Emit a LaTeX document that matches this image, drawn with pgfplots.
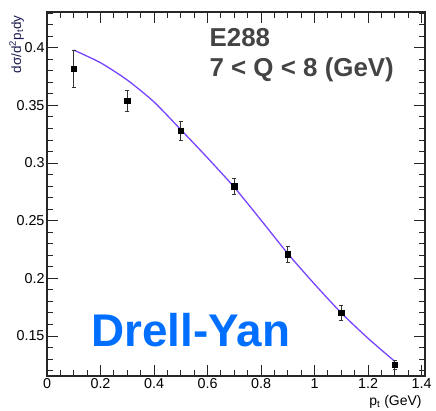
\documentclass[border=0pt]{standalone}
\usepackage{fontspec}
\setmainfont{Liberation Sans}
\usepackage{pgfplots}
\pgfplotsset{compat=1.18}
\definecolor{fitline}{HTML}{7744FF}
\definecolor{dyblue}{HTML}{006EFF}
\definecolor{txtgray}{HTML}{444444}
\definecolor{labnavy}{HTML}{1A1A50}
\begin{document}
\begin{tikzpicture}
\begin{axis}[
    scale only axis,
    width=378bp, height=364bp,
    xmin=0, xmax=1.413,
    ymin=0.1153, ymax=0.431,
    axis line style={line width=1.1bp, black!85},
    xtick={0,0.2,0.4,0.6,0.8,1,1.2,1.4},
    minor xtick={0.05,0.1,0.15,0.25,0.3,0.35,0.45,0.5,0.55,0.65,0.7,0.75,0.85,0.9,0.95,1.05,1.1,1.15,1.25,1.3,1.35},
    ytick={0.15,0.2,0.25,0.3,0.35,0.4},
    minor ytick={0.12,0.13,0.14,0.16,0.17,0.18,0.19,0.21,0.22,0.23,0.24,0.26,0.27,0.28,0.29,0.31,0.32,0.33,0.34,0.36,0.37,0.38,0.39,0.41,0.42,0.43},
    tick align=inside,
    major tick length=11bp, minor tick length=6bp,
    every tick/.style={line width=0.9bp, black!85},
    /pgf/number format/assume math mode=true,
    ticklabel style={font=\fontsize{14.4}{16}\selectfont},
    xticklabel style={yshift=1bp},
    yticklabel style={xshift=1bp},
    xlabel={p\textsubscript{t} (GeV)},
    xlabel style={at={(rel axis cs:1,0)}, anchor=north east, yshift=-16bp,
        font=\fontsize{14}{16}\selectfont},
    ylabel={dσ/d\textsuperscript{2}p\textsubscript{t}dy},
    ylabel style={at={(rel axis cs:-0.052,1)}, anchor=south east, rotate=0,
        font=\fontsize{13.5}{15}\selectfont, text=labnavy},
    clip=false,
]
% fit curve
\addplot[fitline, line width=1.3bp, smooth, tension=0.4] coordinates {
    (0.1,0.398) (0.2,0.387) (0.3,0.372) (0.4,0.353) (0.5,0.329)
    (0.6,0.3045) (0.7,0.279) (0.8,0.2505) (0.9,0.2215) (1.0,0.195)
    (1.1,0.170) (1.2,0.148) (1.3,0.128)
};
% E288 data
\addplot[only marks, mark=square*, mark size=2.6bp, black,
    error bars/.cd, y dir=both, y explicit,
    error bar style={line width=0.8bp, black!80},
    error mark options={rotate=90, mark size=1.8bp, line width=0.8bp}]
    coordinates {
    (0.1,0.382) +- (0,0.016)
    (0.3,0.354) +- (0,0.009)
    (0.5,0.328) +- (0,0.008)
    (0.7,0.280) +- (0,0.007)
    (0.9,0.221) +- (0,0.007)
    (1.1,0.170) +- (0,0.0065)
    (1.3,0.125) +- (0,0.004)
};
\node[anchor=base west, inner sep=0pt, text=txtgray,
    font=\fontsize{26}{28}\selectfont\bfseries] at (axis cs:0.607,0.401) {E288};
\node[anchor=base west, inner sep=0pt, text=txtgray,
    font=\fontsize{26}{28}\selectfont\bfseries] at (axis cs:0.607,0.3748) {7 < Q < 8 (GeV)};
\node[anchor=base west, inner sep=0pt, text=dyblue,
    font=\fontsize{46}{50}\selectfont\bfseries] at (axis cs:0.165,0.1405) {Drell-Yan};
\end{axis}
\pgfresetboundingbox
\useasboundingbox ([shift={(-47bp,-35bp)}]current axis.south west) rectangle ([shift={(11bp,12bp)}]current axis.north east);
\end{tikzpicture}
\end{document}
